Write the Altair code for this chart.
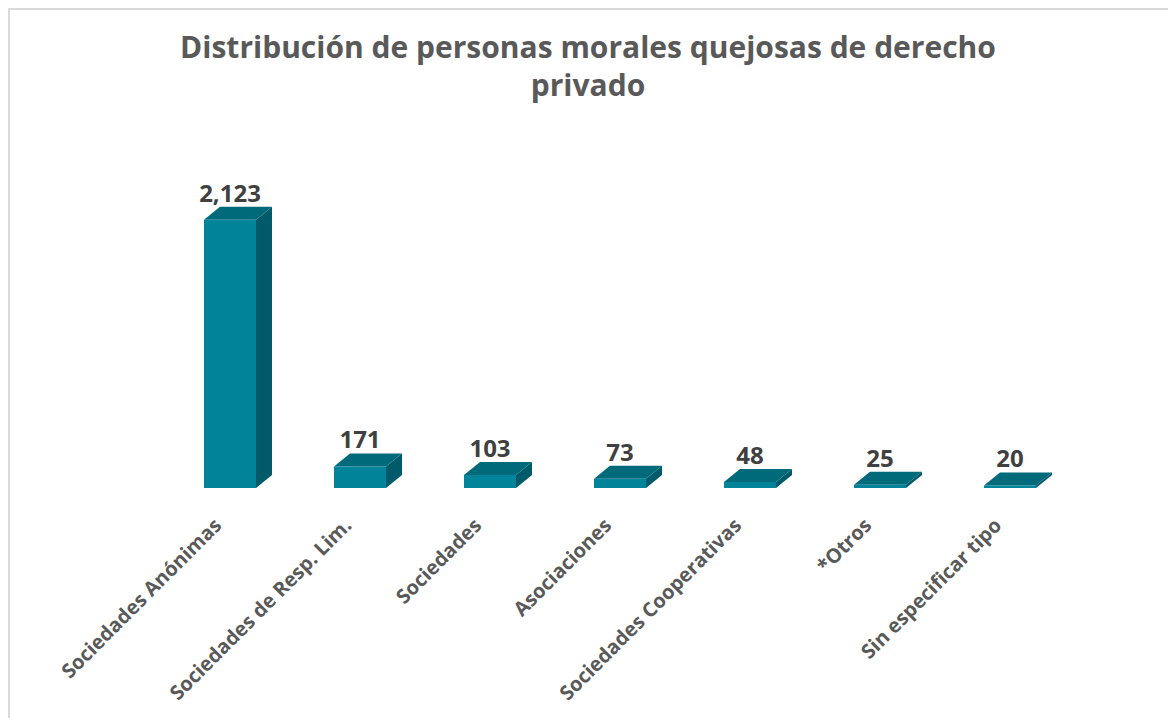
import json
import altair as alt
import pandas as pd

# ---- data ----
categories = [
    "Sociedades Anónimas",
    "Sociedades de Resp. Lim.",
    "Sociedades",
    "Asociaciones",
    "Sociedades Cooperativas",
    "*Otros",
    "Sin especificar tipo",
]
values = [2123, 171, 103, 73, 48, 25, 20]
title_lines = ["Distribución de personas morales quejosas de derecho", "privado"]

# ---- geometry / style ----
W, H = 910, 316
YMAX = 2500
HALF = 0.2                 # half width of the front face (x units)
DX = 16 / 130              # depth offset in x units
DY = 13 * YMAX / H         # depth offset in y units
FRONT = "#018399"
SIDE = "#005A69"
TOP = "#006A7B"
FONT = "Open Sans"

idx = list(range(len(categories)))
front = pd.DataFrame({"i": idx, "cat": categories, "v": values})
front["x1"] = front["i"] - HALF
front["x2"] = front["i"] + HALF
front["top"] = front["v"] + DY

side_rows, top_rows = [], []
for i, c, v in zip(idx, categories, values):
    side_rows.append({"cat": c, "x": i + HALF, "lo": 0, "hi": v})
    side_rows.append({"cat": c, "x": i + HALF + DX, "lo": DY, "hi": v + DY})
    top_rows.append({"cat": c, "y": v, "xa": i - HALF, "xb": i + HALF})
    top_rows.append({"cat": c, "y": v + DY, "xa": i - HALF + DX, "xb": i + HALF + DX})
side = pd.DataFrame(side_rows)
topf = pd.DataFrame(top_rows)

xscale = alt.Scale(domain=[-0.5, len(categories) - 0.5], nice=False, zero=False)
yscale = alt.Scale(domain=[0, YMAX], nice=False)

label_expr = json.dumps(categories, ensure_ascii=False) + "[datum.value]"
xaxis = alt.Axis(values=idx, labelExpr=label_expr, labelAngle=-45,
                 labelAlign="right", labelBaseline="middle",
                 labelFont=FONT, labelFontSize=20, labelFontWeight="bold",
                 labelColor="#595959", labelPadding=34, labelOffset=-12,
                 labelLimit=500, labelOverlap=False, labelBound=False,
                 domain=False, ticks=False, grid=False, title=None)

front_layer = alt.Chart(front).mark_rect(color=FRONT).encode(
    x=alt.X("x1:Q", scale=xscale, axis=xaxis, title=None),
    x2="x2:Q",
    y=alt.Y("v:Q", scale=yscale, axis=None),
    y2=alt.datum(0),
)

side_layer = alt.Chart(side).mark_area(color=SIDE, interpolate="linear").encode(
    x=alt.X("x:Q", scale=xscale, axis=xaxis, title=None),
    y=alt.Y("hi:Q", scale=yscale, axis=None),
    y2="lo:Q",
    detail="cat:N",
)

top_layer = alt.Chart(topf).mark_area(color=TOP, orient="horizontal", interpolate="linear").encode(
    y=alt.Y("y:Q", scale=yscale, axis=None),
    x=alt.X("xa:Q", scale=xscale, axis=xaxis, title=None),
    x2="xb:Q",
    detail="cat:N",
)

text_layer = alt.Chart(front).mark_text(
    font=FONT, fontSize=24, fontWeight="bold", color="#404040",
    baseline="alphabetic", align="center", dy=-5,
).encode(
    x=alt.X("i:Q", scale=xscale, axis=xaxis, title=None),
    y=alt.Y("top:Q", scale=yscale, axis=None),
    text=alt.Text("v:Q", format=","),
)

border = alt.Chart(pd.DataFrame({"a": [0]})).mark_rect(
    filled=False, stroke="#D9D9D9", strokeWidth=2
).encode(
    x=alt.value(-156), x2=alt.value(1200),
    y=alt.value(-163), y2=alt.value(700),
)

chart = alt.layer(border, side_layer, top_layer, front_layer, text_layer).properties(
    width=W, height=H,
    background="white",
    title=alt.TitleParams(text=title_lines, font=FONT, fontSize=30, fontWeight="bold",
                          color="#595959", anchor="middle", frame="group",
                          dx=-32, dy=94, offset=0, lineHeight=38),
    autosize=alt.AutoSizeParams(type="none"),
    padding={"left": 157, "top": 164, "right": 93, "bottom": 230},
).configure_view(strokeWidth=0, stroke=None)

chart.save("out.html", embed_options={"renderer": "svg", "actions": False})
